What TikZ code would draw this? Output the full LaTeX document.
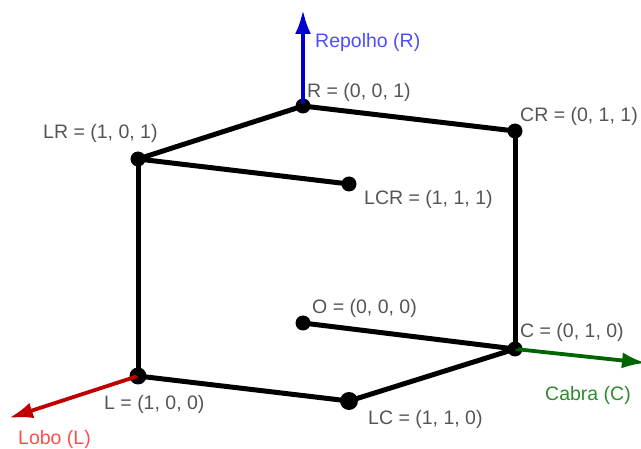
\documentclass[tikz,border=0pt]{standalone}
\usepackage{fontspec}
\setmainfont{Liberation Sans}
\usetikzlibrary{arrows.meta}
\definecolor{lblgray}{HTML}{555555}
\definecolor{axred}{HTML}{C00000}
\definecolor{axblue}{HTML}{0000CC}
\definecolor{axgreen}{HTML}{006400}
\definecolor{txred}{HTML}{FF4D4D}
\definecolor{txblue}{HTML}{4D4DFF}
\definecolor{txgreen}{HTML}{2E8B2E}
\tikzset{
  vtx/.style={circle,fill=black,inner sep=0pt,minimum size=#1},
  vtx/.default=15pt,
  edgeline/.style={line width=5pt,black},
  axisline/.style={line width=3.8pt,-{Latex[length=24pt,width=16pt]}},
  lbl/.style={anchor=base west,inner sep=0pt,font=\fontsize{19.5pt}{22pt}\selectfont,text=lblgray},
  axlbl/.style={anchor=base west,inner sep=0pt,font=\fontsize{19.5pt}{22pt}\selectfont},
}
\begin{document}
\begin{tikzpicture}[x=1pt,y=-1pt]
\useasboundingbox (0,0) rectangle (641,449);
\node[vtx] (O) at (303,323) {};
\node[vtx] (C) at (515,349) {};
\node[vtx=17pt] (L) at (138,376) {};
\node[vtx=18pt] (LC) at (349,401) {};
\node[vtx] (R) at (303,106) {};
\node[vtx] (CR) at (515,131) {};
\node[vtx] (LR) at (138,159) {};
\node[vtx] (LCR) at (349,184) {};
\coordinate (Rend) at (303,10);
\coordinate (Lend) at (9,418);
\coordinate (Cend) at (646,363);
\draw[axisline,axblue] (R.center) -- (Rend);
\draw[axisline,axred] (L.center) -- (Lend);
\draw[axisline,axgreen] (C.center) -- (Cend);
\draw[edgeline] (O.center) -- (C.center);
\draw[edgeline] (C.center) -- (LC.center);
\draw[edgeline] (LC.center) -- (L.center);
\draw[edgeline] (L.center) -- (LR.center);
\draw[edgeline] (LR.center) -- (R.center);
\draw[edgeline] (R.center) -- (CR.center);
\draw[edgeline] (CR.center) -- (C.center);
\draw[edgeline] (LR.center) -- (LCR.center);
\node[lbl] (tR) at (307,98) {R = (0, 0, 1)};
\node[lbl] (tCR) at (520,122) {CR = (0, 1, 1)};
\node[lbl] (tLR) at (43,139) {LR = (1, 0, 1)};
\node[lbl] (tLCR) at (364,205) {LCR = (1, 1, 1)};
\node[lbl] (tO) at (312,314) {O = (0, 0, 0)};
\node[lbl] (tC) at (520,338) {C = (0, 1, 0)};
\node[lbl] (tL) at (104,410) {L = (1, 0, 0)};
\node[lbl] (tLC) at (368,425) {LC = (1, 1, 0)};
\node[axlbl,text=txblue] (tRepolho) at (315,48) {Repolho (R)};
\node[axlbl,text=txred] (tLobo) at (18,444.5) {Lobo (L)};
\node[axlbl,text=txgreen] (tCabra) at (545,401) {Cabra (C)};
\end{tikzpicture}
\end{document}
